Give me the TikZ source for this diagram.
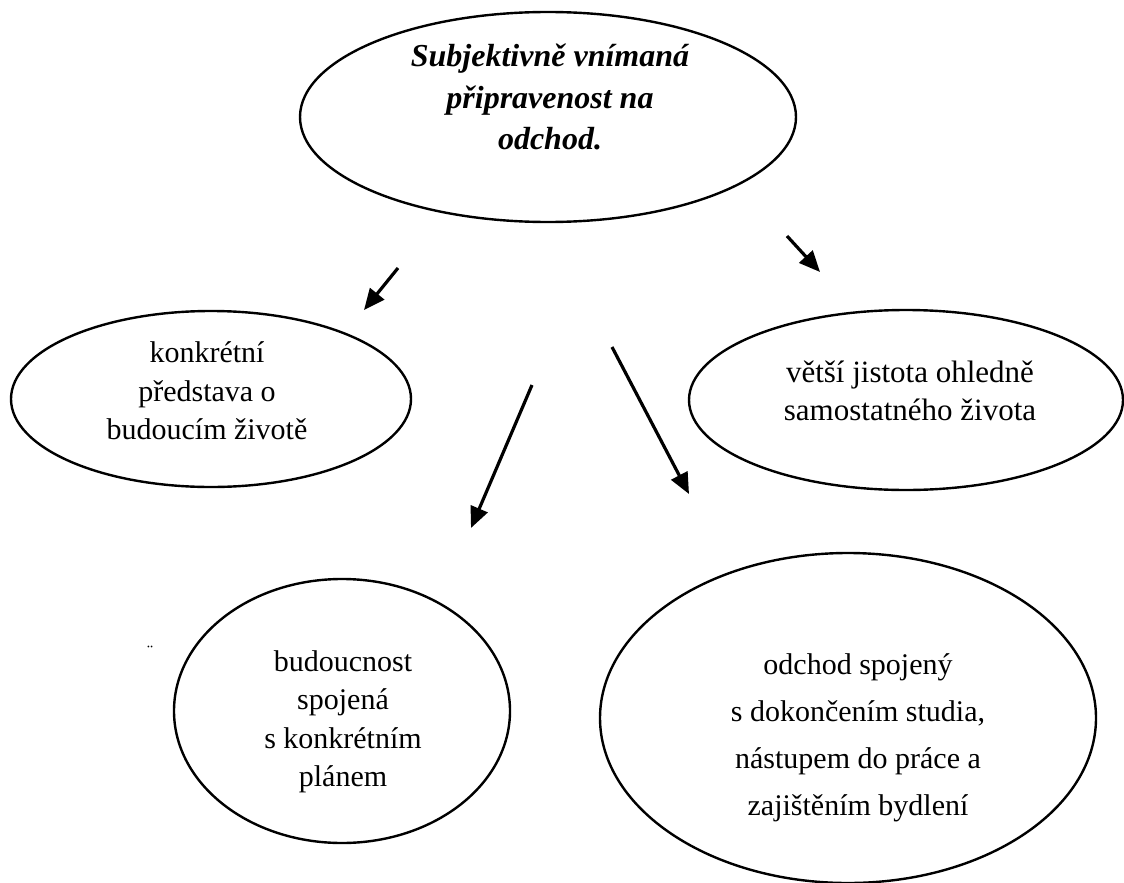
\documentclass[tikz,border=0pt]{standalone}
\usepackage{fontspec}
\setmainfont{Liberation Serif}
\usetikzlibrary{shapes.geometric,arrows.meta}
\tikzset{
  oval/.style={draw, line width=2.4pt, ellipse, inner sep=0pt},
  txt/.style={align=center, inner sep=0pt, font=\fontsize{30}{38.5}\selectfont},
  toptxt/.style={txt, font=\fontsize{32}{41.5}\selectfont\bfseries\itshape},
  arr/.style={line width=3.2pt, -{Triangle[length=21pt,width=18pt]}},
}
\begin{document}
\begin{tikzpicture}[x=1pt,y=-1pt]
\useasboundingbox[fill=white] (0,0) rectangle (1124,883);
% ellipses
\node[oval, minimum width=496, minimum height=210] (top) at (548,117) {};
\node[oval, minimum width=400, minimum height=176] (left) at (211,399) {};
\node[oval, minimum width=434, minimum height=180] (right) at (906,400) {};
\node[oval, minimum width=336, minimum height=264] (bl) at (342,711) {};
\node[oval, minimum width=496, minimum height=330] (br) at (848,718) {};
% texts
\node[toptxt] (toptext) at (550,97)
  {Subjektivně vnímaná\\připravenost na\\odchod.};
\node[txt] (lefttext) at (207,391)
  {konkrétní\\představa o\\budoucím životě};
\node[txt, font=\fontsize{31}{38.5}\selectfont] (righttext) at (910,391)
  {větší jistota ohledně\\samostatného života};
\node[txt] (bltext) at (343,722)
  {budoucnost\\spojená\\s konkrétním\\plánem};
\node[txt, font=\fontsize{30}{47}\selectfont] (brtext) at (858,738)
  {odchod spojený\\s dokončením studia,\\nástupem do práce a\\zajištěním bydlení};
\node[font=\fontsize{18}{18}\selectfont] (mark) at (150,652) {¨};
% arrows
\coordinate (a1s) at (398,268); \coordinate (a1e) at (364,310);
\coordinate (a2s) at (787,236); \coordinate (a2e) at (820,272);
\coordinate (a3s) at (532,385); \coordinate (a3e) at (471,528);
\coordinate (a4s) at (612,347); \coordinate (a4e) at (689,494);
\draw[arr] (a1s) -- (a1e);
\draw[arr] (a2s) -- (a2e);
\draw[arr] (a3s) -- (a3e);
\draw[arr] (a4s) -- (a4e);
\end{tikzpicture}
\end{document}
